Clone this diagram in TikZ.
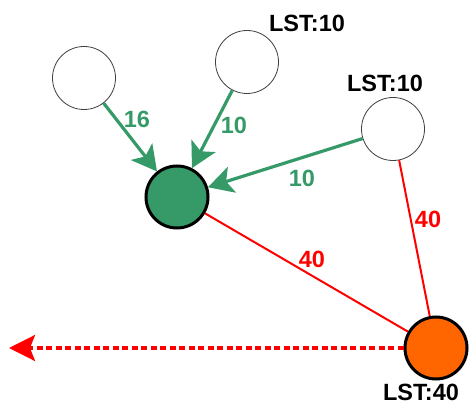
\documentclass[tikz,border=0pt]{standalone}
\usepackage{fontspec}
\setmainfont{Liberation Sans}
\usetikzlibrary{arrows.meta}
\definecolor{taskgreen}{RGB}{53,153,104}
\definecolor{taskorange}{RGB}{255,102,0}
\definecolor{pathred}{RGB}{255,0,0}
\tikzset{
  task/.style={circle,draw=black!75,line width=0.8pt,minimum size=63pt,inner sep=0pt},
  donetask/.style={task,draw=black,line width=3pt,minimum size=62pt},
  lbl/.style={anchor=base,inner sep=0pt,font=\fontsize{23.5}{26}\selectfont\bfseries},
  dep/.style={draw=taskgreen,line width=3.2pt,-{Stealth[length=25pt,width=27pt,inset=6pt]}},
  crit/.style={draw=pathred,line width=2pt},
}
\begin{document}
\begin{tikzpicture}[x=1pt,y=1pt]
        \useasboundingbox (0,0) rectangle (469,405);

        \node[task] (tA) at (84,327) {};
        \node[task] (tB) at (247,343) {};
        \node[task] (tC) at (393,276) {};
        \node[donetask,fill=taskgreen] (tG) at (177,208) {};
        \node[donetask,fill=taskorange] (tO) at (436,57) {};
        \coordinate (tEnd) at (9,57);

        \node[lbl] (lstB) at (307,373) {LST:10};
        \node[lbl] (lstC) at (385,313) {LST:10};
        \node[lbl] (lstO) at (421,5) {LST:40};

        \draw[dep] (tA) -- (tG);
        \draw[dep] (tB) -- (tG);
        \draw[dep] (tC) -- (tG);
        \node[lbl,text=taskgreen] (wA) at (137,277) {16};
        \node[lbl,text=taskgreen] (wB) at (234,271) {10};
        \node[lbl,text=taskgreen] (wC) at (302,218) {10};

        \draw[crit] (tG) -- (tO);
        \draw[crit] (tC) -- (tO);
        \node[lbl,text=pathred] (wG) at (312,138) {40};
        \node[lbl,text=pathred] (wO) at (428,178) {40};

        \draw[draw=pathred,line width=3.2pt,dash pattern=on 6pt off 3.5pt,
              -{Stealth[length=26pt,width=26pt,inset=5pt]}] (tO) -- (tEnd);
    \end{tikzpicture}
\end{document}
